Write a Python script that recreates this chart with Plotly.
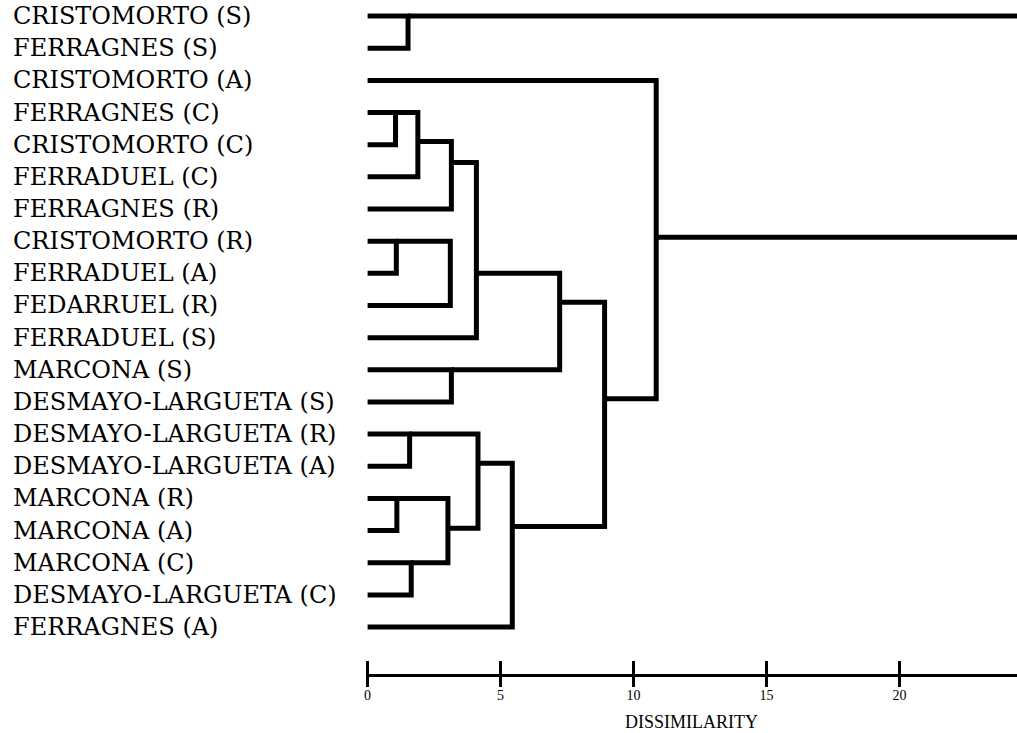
import plotly.graph_objects as go

# ---------------- data ----------------
leaf_labels = [
    "CRISTOMORTO (S)", "FERRAGNES (S)", "CRISTOMORTO (A)", "FERRAGNES (C)",
    "CRISTOMORTO (C)", "FERRADUEL (C)", "FERRAGNES (R)", "CRISTOMORTO (R)",
    "FERRADUEL (A)", "FEDARRUEL (R)", "FERRADUEL (S)", "MARCONA (S)",
    "DESMAYO-LARGUETA (S)", "DESMAYO-LARGUETA (R)", "DESMAYO-LARGUETA (A)",
    "MARCONA (R)", "MARCONA (A)", "MARCONA (C)", "DESMAYO-LARGUETA (C)",
    "FERRAGNES (A)",
]
n_leaves = len(leaf_labels)

# merges: node ids 0..19 are leaves, merge k creates node 20+k
merge_left = [3, 7, 15, 0, 13, 17, 20, 22, 21, 26, 11, 29, 24, 32, 31, 34, 2, 23]
merge_right = [4, 8, 16, 1, 14, 18, 5, 25, 9, 6, 12, 10, 27, 19, 30, 33, 35, 36]
merge_height = [1.05, 1.08, 1.10, 1.52, 1.58, 1.64, 1.89, 3.02, 3.11, 3.15,
                3.15, 4.09, 4.15, 5.44, 7.22, 8.91, 10.85, 25.5]
# position (in leaf-order units) where each merged cluster's link leaves the node
merge_link_pos = [3, 7, 15, 0, 13, 17, 3.9, 15.93, None, 4.55,
                  11, 8.0, 13.91, 15.87, 8.9, 11.9, 6.88, None]

tick_values = [0, 5, 10, 15, 20, 25]
x_title = "DISSIMILARITY"

# ---------------- build link paths ----------------
pos = {i: float(i) for i in range(n_leaves)}
hgt = {i: 0.0 for i in range(n_leaves)}
for k, (p, h) in enumerate(zip(merge_link_pos, merge_height)):
    pos[n_leaves + k] = p
    hgt[n_leaves + k] = h

xs, ys = [], []
for a, b, h in zip(merge_left, merge_right, merge_height):
    xs += [hgt[a], h, h, hgt[b], None]
    ys += [pos[a], pos[a], pos[b], pos[b], None]

# ---------------- layout constants ----------------
W, H = 1017, 733
ML, MR, MT, MB = 366, 0, 0, 59
px_per_unit = 26.6
x_min = -0.06
x_max = x_min + (W - ML - MR) / px_per_unit
y_top, y_bottom = -0.5, 20.46
label_px = 11

fig = go.Figure()
fig.add_trace(go.Scatter(
    x=xs, y=ys, mode="lines",
    line=dict(color="black", width=5),
    hoverinfo="skip", showlegend=False,
))
fig.add_trace(go.Scatter(x=[None], y=[None], xaxis="x2", showlegend=False,
                         hoverinfo="skip"))

for i, lab in enumerate(leaf_labels):
    fig.add_annotation(
        text=lab, xref="paper", yref="y",
        x=(label_px - ML) / (W - ML - MR), y=i,
        xanchor="left", yanchor="middle", showarrow=False,
        font=dict(family="DejaVu Serif", size=24, color="black"),
    )

fig.update_layout(
    width=W, height=H,
    margin=dict(l=ML, r=MR, t=MT, b=MB, pad=0),
    paper_bgcolor="white", plot_bgcolor="white",
    xaxis=dict(
        range=[x_min, x_max], tickvals=tick_values,
        ticktext=[str(v) for v in tick_values],
        showgrid=False, zeroline=False,
        showline=True, linecolor="black", linewidth=3,
        ticks="outside", ticklen=10, tickwidth=2.5, tickcolor="black",
        ticklabelstandoff=-4,
        tickfont=dict(family="Liberation Serif", size=14, color="black"),
        title=dict(text=x_title, standoff=14,
                   font=dict(family="Liberation Serif", size=18, color="black")),
    ),
    xaxis2=dict(
        overlaying="x", anchor="y", side="bottom", matches="x",
        range=[x_min, x_max], tickvals=tick_values,
        showticklabels=False, showgrid=False, zeroline=False, showline=False,
        ticks="inside", ticklen=13, tickwidth=2.5, tickcolor="black",
    ),
    yaxis=dict(
        range=[y_bottom, y_top], showgrid=False, zeroline=False,
        showline=False, showticklabels=False, ticks="",
    ),
)

fig.write_html("out.html")
